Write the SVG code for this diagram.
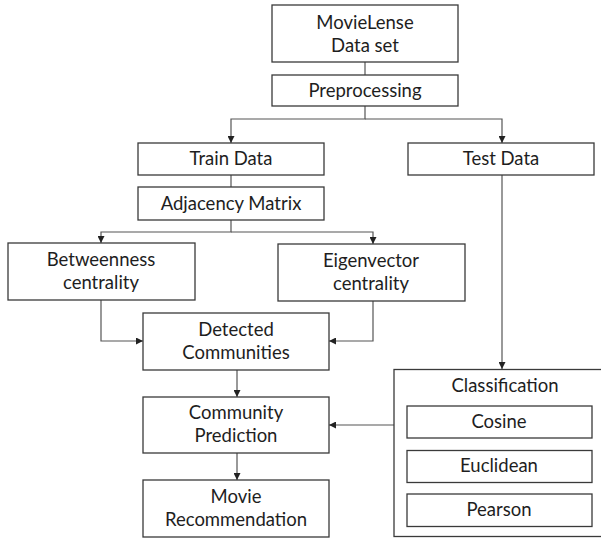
<svg xmlns="http://www.w3.org/2000/svg" width="601" height="538" viewBox="0 0 601 538">
<defs>
<style>
.b{fill:#fff;stroke:#3a3a3a;stroke-width:1.3}
.t{font-family:Lato,"Liberation Sans",sans-serif;font-size:18.5px;fill:#1e1e1e;text-anchor:middle}
.c{fill:none;stroke:#555;stroke-width:1.2}
</style>
<marker id="a" viewBox="0 0 8 8" refX="8" refY="4" markerWidth="7" markerHeight="7" markerUnits="userSpaceOnUse" orient="auto"><path d="M0,0L8,4L0,8z" fill="#222"/></marker>
</defs>
<rect width="601" height="538" fill="#fff"/>
<g id="connectors">
<path class="c" d="M365,62V75"/>
<path class="c" d="M365,106V119H231V143" marker-end="url(#a)"/>
<path class="c" d="M365,119H502V143" marker-end="url(#a)"/>
<path class="c" d="M231,175V187"/>
<path class="c" d="M231,220V232H101V243" marker-end="url(#a)"/>
<path class="c" d="M231,232H373V244" marker-end="url(#a)"/>
<path class="c" d="M101,300V341H143" marker-end="url(#a)"/>
<path class="c" d="M373,301V341H329" marker-end="url(#a)"/>
<path class="c" d="M502,175V369" marker-end="url(#a)"/>
<path class="c" d="M237,370V397" marker-end="url(#a)"/>
<path class="c" d="M237,453V480" marker-end="url(#a)"/>
<path class="c" d="M394,425H329" marker-end="url(#a)"/>
</g>
<g id="movielense"><rect class="b" x="272" y="5" width="186" height="57"/><text class="t" x="365" y="29">MovieLense</text><text class="t" x="365" y="52">Data set</text></g>
<g id="preprocessing"><rect class="b" x="272" y="75" width="186" height="31"/><text class="t" x="365" y="97">Preprocessing</text></g>
<g id="train"><rect class="b" x="138" y="143" width="186" height="32"/><text class="t" x="231" y="165">Train Data</text></g>
<g id="test"><rect class="b" x="408" y="143" width="186" height="32"/><text class="t" x="501" y="165">Test Data</text></g>
<g id="adjacency"><rect class="b" x="138" y="187" width="186" height="33"/><text class="t" x="231" y="210">Adjacency Matrix</text></g>
<g id="betweenness"><rect class="b" x="8" y="243" width="187" height="57"/><text class="t" x="101" y="266">Betweenness</text><text class="t" x="101" y="289">centrality</text></g>
<g id="eigenvector"><rect class="b" x="278" y="244" width="187" height="57"/><text class="t" x="371" y="267">Eigenvector</text><text class="t" x="371" y="290">centrality</text></g>
<g id="detected"><rect class="b" x="143" y="313" width="186" height="57"/><text class="t" x="236" y="336">Detected</text><text class="t" x="236" y="359">Communities</text></g>
<g id="prediction"><rect class="b" x="143" y="397" width="186" height="56"/><text class="t" x="236" y="419">Community</text><text class="t" x="236" y="442">Prediction</text></g>
<g id="recommendation"><rect class="b" x="143" y="480" width="186" height="57"/><text class="t" x="236" y="526" dy="-23">Movie</text><text class="t" x="236" y="526">Recommendation</text></g>
<g id="classification"><rect class="b" x="394" y="369.5" width="212" height="167"/><text class="t" x="505" y="392">Classification</text>
<g id="cosine"><rect class="b" x="407" y="406" width="185" height="32"/><text class="t" x="499" y="428">Cosine</text></g>
<g id="euclidean"><rect class="b" x="407" y="450.5" width="185" height="32"/><text class="t" x="499" y="472">Euclidean</text></g>
<g id="pearson"><rect class="b" x="407" y="494" width="185" height="32.5"/><text class="t" x="499" y="516">Pearson</text></g>
</g>
</svg>
